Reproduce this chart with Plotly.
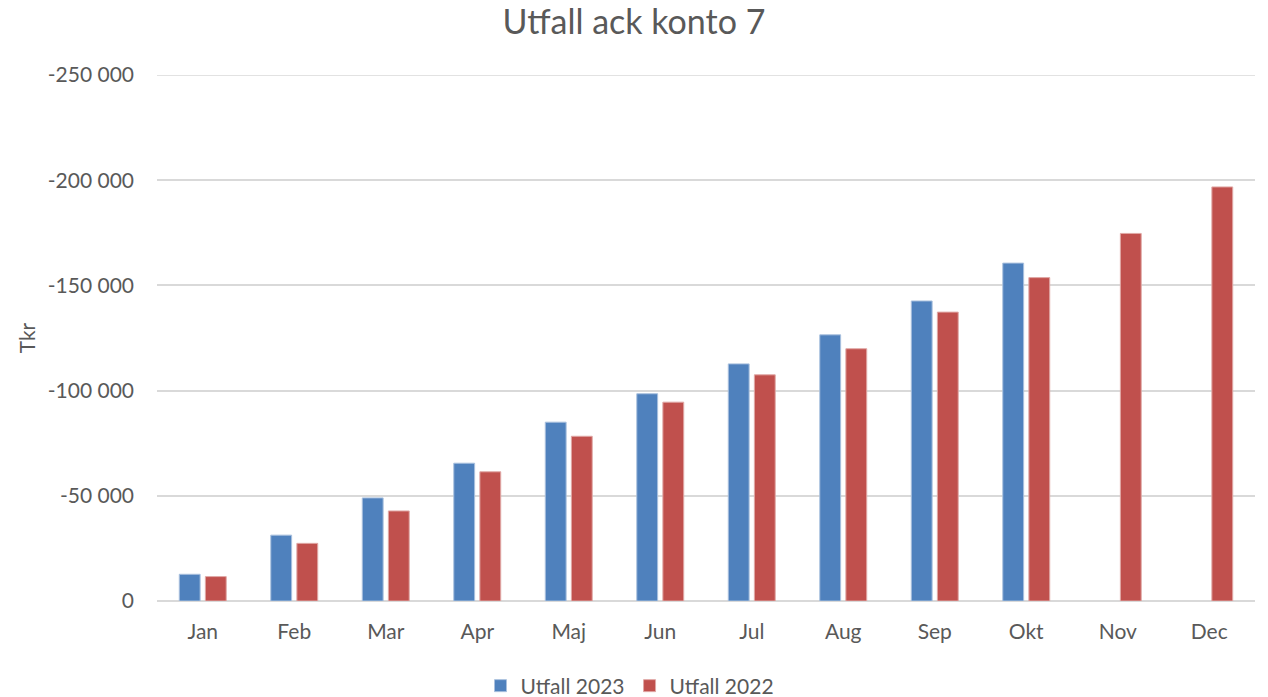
import plotly.graph_objects as go

months = ["Jan", "Feb", "Mar", "Apr", "Maj", "Jun", "Jul", "Aug", "Sep", "Okt", "Nov", "Dec"]
utfall_2023 = [-12700, -31300, -49000, -65500, -85000, -98500, -112700, -126500, -142600, -160600, None, None]
utfall_2022 = [-11600, -27400, -42800, -61400, -78300, -94500, -107500, -119900, -137300, -153700, -174700, -196800]
y_tickvals = [0, -50000, -100000, -150000, -200000, -250000]
y_ticktext = ["0", "-50 000", "-100 000", "-150 000", "-200 000", "-250 000"]
y_max = -250000

FONT = "Lato"
GREY = "#595959"
GRID = "#d9d9d9"

fig = go.Figure()
fig.add_trace(go.Bar(
    x=months, y=utfall_2023, name="Utfall 2023",
    marker=dict(color="#4f81bd", line=dict(color="#a9c0de", width=1)),
))
fig.add_trace(go.Bar(
    x=months, y=utfall_2022, name="Utfall 2022",
    marker=dict(color="#c0504d", line=dict(color="#e0a8a6", width=1)),
))

fig.update_layout(
    width=1268, height=697,
    paper_bgcolor="white", plot_bgcolor="white",
    font=dict(family=FONT, color=GREY, size=21),
    margin=dict(l=157, r=13, t=75, b=96, autoexpand=False),
    barmode="group", bargap=0.43, bargroupgap=0.2,
    title=dict(text="Utfall ack konto 7", x=0.5, xanchor="center",
               xref="container", y=1 - 22 / 697, yref="container", yanchor="middle",
               font=dict(size=34, color=GREY, family=FONT)),
    legend=dict(orientation="h", xref="paper", yref="paper",
                x=(630 - 157) / 1098, xanchor="center",
                y=(601 - 686) / 526, yanchor="middle",
                font=dict(size=21, color=GREY), itemwidth=30,
                traceorder="normal", tracegroupgap=0),
    showlegend=True,
)
# top gridline (plotly omits gridlines at the exact plot edge)
fig.add_shape(type="line", xref="paper", x0=0, x1=1, yref="y", y0=y_max, y1=y_max,
              line=dict(color=GRID, width=1.5), layer="below")
fig.update_xaxes(
    showgrid=False, showline=False, ticks="", ticklabelstandoff=16,
    tickfont=dict(size=21, color=GREY), automargin=False,
)
fig.update_yaxes(
    range=[0, y_max], tickvals=y_tickvals, ticktext=y_ticktext,
    showgrid=True, gridcolor=GRID, gridwidth=1.5,
    zeroline=True, zerolinecolor=GRID, zerolinewidth=1.5,
    showline=False, ticks="", ticklabelstandoff=22,
    tickfont=dict(size=21, color=GREY), automargin=False,
    title=dict(text="Tkr", font=dict(size=21, color=GREY), standoff=6),
)

fig.write_html("out.html", config={"displayModeBar": False})

# remove default body margin so the figure sits at the page origin
with open("out.html", "r", encoding="utf-8") as f:
    html = f.read()
html = html.replace("<body>", '<body style="margin:0;padding:0;">', 1)
with open("out.html", "w", encoding="utf-8") as f:
    f.write(html)
